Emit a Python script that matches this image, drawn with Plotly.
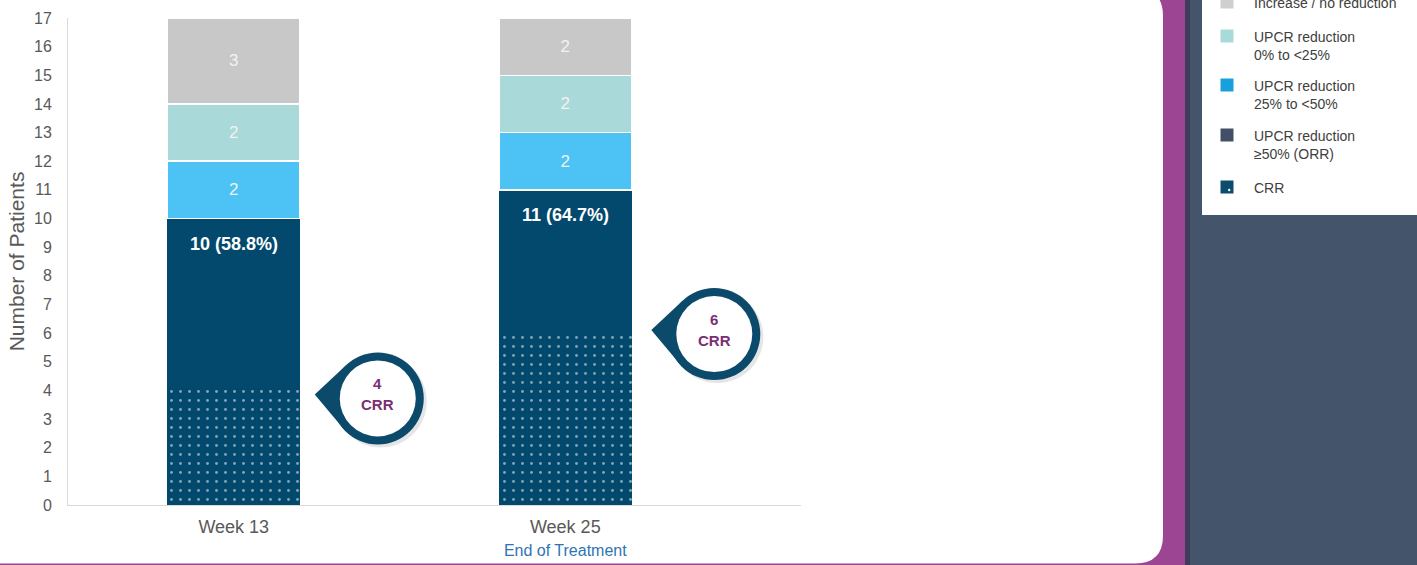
import plotly.graph_objects as go

# ---- data -------------------------------------------------------------
categories = ["Week 13", "Week 25"]
n_patients = [17, 17]
crr = [4, 6]                 # complete renal response
orr = [10, 11]               # UPCR reduction >=50% (CRR included)
red_25_50 = [2, 2]           # UPCR reduction 25% to <50%
red_0_25 = [2, 2]            # UPCR reduction 0% to <25%
no_reduction = [3, 2]        # increase / no reduction

tick_labels = [
    "Week 13",
    "Week 25<br><span style='font-size:16px;color:#2E74B5'>End of Treatment</span>",
]
y_ticks = list(range(0, 18))

legend_labels = [
    "Increase / no reduction",
    "UPCR reduction<br>0% to &lt;25%",
    "UPCR reduction<br>25% to &lt;50%",
    "UPCR reduction<br>≥50% (ORR)",
    "CRR",
]
legend_colors = ["#CFCFCF", "#A7DAD9", "#1A9FDD", "#434F66", "#0B4D6E"]

# ---- styling ----------------------------------------------------------
DARK = "#03496D"
BLUE = "#4DC3F5"
TEAL = "#A9D9D8"
GREY = "#C8C8C8"
AXIS_GREY = "#595959"
FONT = "Liberation Sans, Arial, sans-serif"

W, H = 1417, 565
PL, PR, PT, PB = 68, 801, 18, 505   # plot area in pixels


def fx(x):
    return (x - PL) / (PR - PL)


def fy(y):
    return (PB - y) / (PB - PT)


def rrect(x0, y0, x1, y1, r):
    pts = [
        ("M", [(x0 + r, y0)]), ("L", [(x1 - r, y0)]), ("Q", [(x1, y0), (x1, y0 + r)]),
        ("L", [(x1, y1 - r)]), ("Q", [(x1, y1), (x1 - r, y1)]),
        ("L", [(x0 + r, y1)]), ("Q", [(x0, y1), (x0, y1 - r)]),
        ("L", [(x0, y0 + r)]), ("Q", [(x0, y0), (x0 + r, y0)]),
    ]
    s = ""
    for cmd, ps in pts:
        s += cmd + " ".join(f"{fx(a):.5f},{fy(b):.5f}" for a, b in ps) + " "
    return s + "Z"


fig = go.Figure()

common = dict(x=categories, width=0.4, hoverinfo="skip", showlegend=False)
seg_font = dict(family=FONT, size=17, color="#F2F2F2")

fig.add_trace(go.Bar(
    y=crr, name="CRR",
    marker=dict(color=DARK, line=dict(width=0),
                pattern=dict(shape=".", fgcolor="#FFFFFF", bgcolor=DARK,
                             size=9, solidity=0.08)),
    **common))
fig.add_trace(go.Bar(
    y=[o - c for o, c in zip(orr, crr)], name="UPCR reduction ≥50% (ORR)",
    marker=dict(color=DARK, line=dict(width=0)), **common))
for vals, col, nm in [(red_25_50, BLUE, "UPCR reduction 25% to <50%"),
                      (red_0_25, TEAL, "UPCR reduction 0% to <25%"),
                      (no_reduction, GREY, "Increase / no reduction")]:
    fig.add_trace(go.Bar(
        y=vals, name=nm, text=vals, texttemplate="%{text}",
        textposition="inside", insidetextanchor="middle", textangle=0,
        textfont=seg_font,
        marker=dict(color=col, line=dict(width=1.5, color="#FFFFFF")), **common))

shapes = []
annotations = []

# background panels
shapes.append(dict(type="path", xref="paper", yref="paper", layer="below",
                   path=rrect(-40, -12, 1163, 563.5, 28),
                   fillcolor="#FFFFFF", line=dict(width=0)))
shapes.append(dict(type="rect", xref="paper", yref="paper", layer="below",
                   x0=fx(1188), x1=fx(1440), y0=fy(-20), y1=fy(600),
                   fillcolor="#44546B", line=dict(width=0)))
shapes.append(dict(type="rect", xref="paper", yref="paper", layer="below",
                   x0=fx(1185), x1=fx(1190), y0=fy(-20), y1=fy(600),
                   fillcolor="#3E3C5A", line=dict(width=0)))
shapes.append(dict(type="rect", xref="paper", yref="paper", layer="below",
                   x0=fx(1202), x1=fx(1440), y0=fy(-20), y1=fy(215),
                   fillcolor="#FFFFFF", line=dict(width=0)))

# legend
legend_y = [2, 36, 85, 135, 187]
for lab, col, cy in zip(legend_labels, legend_colors, legend_y):
    shapes.append(dict(type="rect", xref="paper", yref="paper",
                       x0=fx(1220.5), x1=fx(1233.5), y0=fy(cy + 6.5), y1=fy(cy - 6.5),
                       fillcolor=col, line=dict(width=0)))
    annotations.append(dict(xref="paper", yref="paper", x=fx(1252), y=fy(cy - 9),
                            xanchor="left", yanchor="top", align="left", showarrow=False,
                            text=lab, font=dict(family=FONT, size=14, color="#404040")))
shapes.append(dict(type="circle", xref="paper", yref="paper",
                   x0=fx(1228), x1=fx(1230.4), y0=fy(cy + 4.2), y1=fy(cy + 1.8),
                   fillcolor="#FFFFFF", line=dict(width=0)))

# ORR totals with share of patients
for cat, o, n in zip(categories, orr, n_patients):
    annotations.append(dict(x=cat, y=o, xref="x", yref="y", yanchor="top",
                            yshift=-13, showarrow=False,
                            text=f"<b>{o} ({o / n * 100:.1f}%)</b>",
                            font=dict(family=FONT, size=18, color="#FFFFFF")))

# CRR callouts
R_OUT, R_IN = 46, 38
callout_offset = [(144, -8), (149, -1)]
for cat, c, (dx, dy) in zip(categories, crr, callout_offset):
    base = dict(xref="x", yref="y", xsizemode="pixel", ysizemode="pixel",
                xanchor=cat, yanchor=c, layer="above", line=dict(width=0))
    shapes.append(dict(type="circle", x0=dx - R_OUT + 3, x1=dx + R_OUT + 3,
                       y0=dy - R_OUT - 3, y1=dy + R_OUT - 3,
                       fillcolor="rgba(0,0,0,0.10)", **base))
    tip = (dx - 63, dy + 4)
    p1 = (dx - 32, dy + 33)
    p2 = (dx - 32, dy - 33)
    shapes.append(dict(type="path",
                       path=f"M{tip[0]},{tip[1]} L{p1[0]},{p1[1]} L{p2[0]},{p2[1]} Z",
                       fillcolor="#0B4A6B", **base))
    shapes.append(dict(type="circle", x0=dx - R_OUT, x1=dx + R_OUT,
                       y0=dy - R_OUT, y1=dy + R_OUT, fillcolor="#0B4A6B", **base))
    shapes.append(dict(type="circle", x0=dx - R_IN, x1=dx + R_IN,
                       y0=dy - R_IN, y1=dy + R_IN, fillcolor="#FFFFFF", **base))
    for txt, sh in [(str(c), 15), ("CRR", -6)]:
        annotations.append(dict(x=cat, y=c, xref="x", yref="y", xshift=dx,
                                yshift=dy + sh, showarrow=False, text=f"<b>{txt}</b>",
                                font=dict(family=FONT, size=15, color="#7A2E73")))

fig.update_layout(
    width=W, height=H,
    margin=dict(l=PL, r=W - PR, t=PT, b=H - PB, autoexpand=False),
    paper_bgcolor="#9B4593",
    plot_bgcolor="rgba(0,0,0,0)",
    barmode="stack",
    font=dict(family=FONT, color=AXIS_GREY),
    showlegend=False,
    shapes=shapes,
    annotations=annotations,
    xaxis=dict(type="category", range=[-0.5, 1.711], tickvals=categories,
               ticktext=tick_labels, showline=True, linecolor="#D9D9D9",
               linewidth=1, showgrid=False, zeroline=False, ticks="",
               ticklabelstandoff=5, automargin=False,
               tickfont=dict(family=FONT, size=18, color=AXIS_GREY)),
    yaxis=dict(range=[0, 17], tickvals=y_ticks, showline=True,
               linecolor="#D9D9D9", linewidth=1, showgrid=False, zeroline=False,
               ticks="", ticklabelstandoff=12, automargin=False,
               tickfont=dict(family=FONT, size=16, color=AXIS_GREY),
               title=dict(text="Number of Patients", standoff=3,
                          font=dict(family=FONT, size=21, color=AXIS_GREY))),
)

fig.write_html("out.html", config={"displayModeBar": False})
